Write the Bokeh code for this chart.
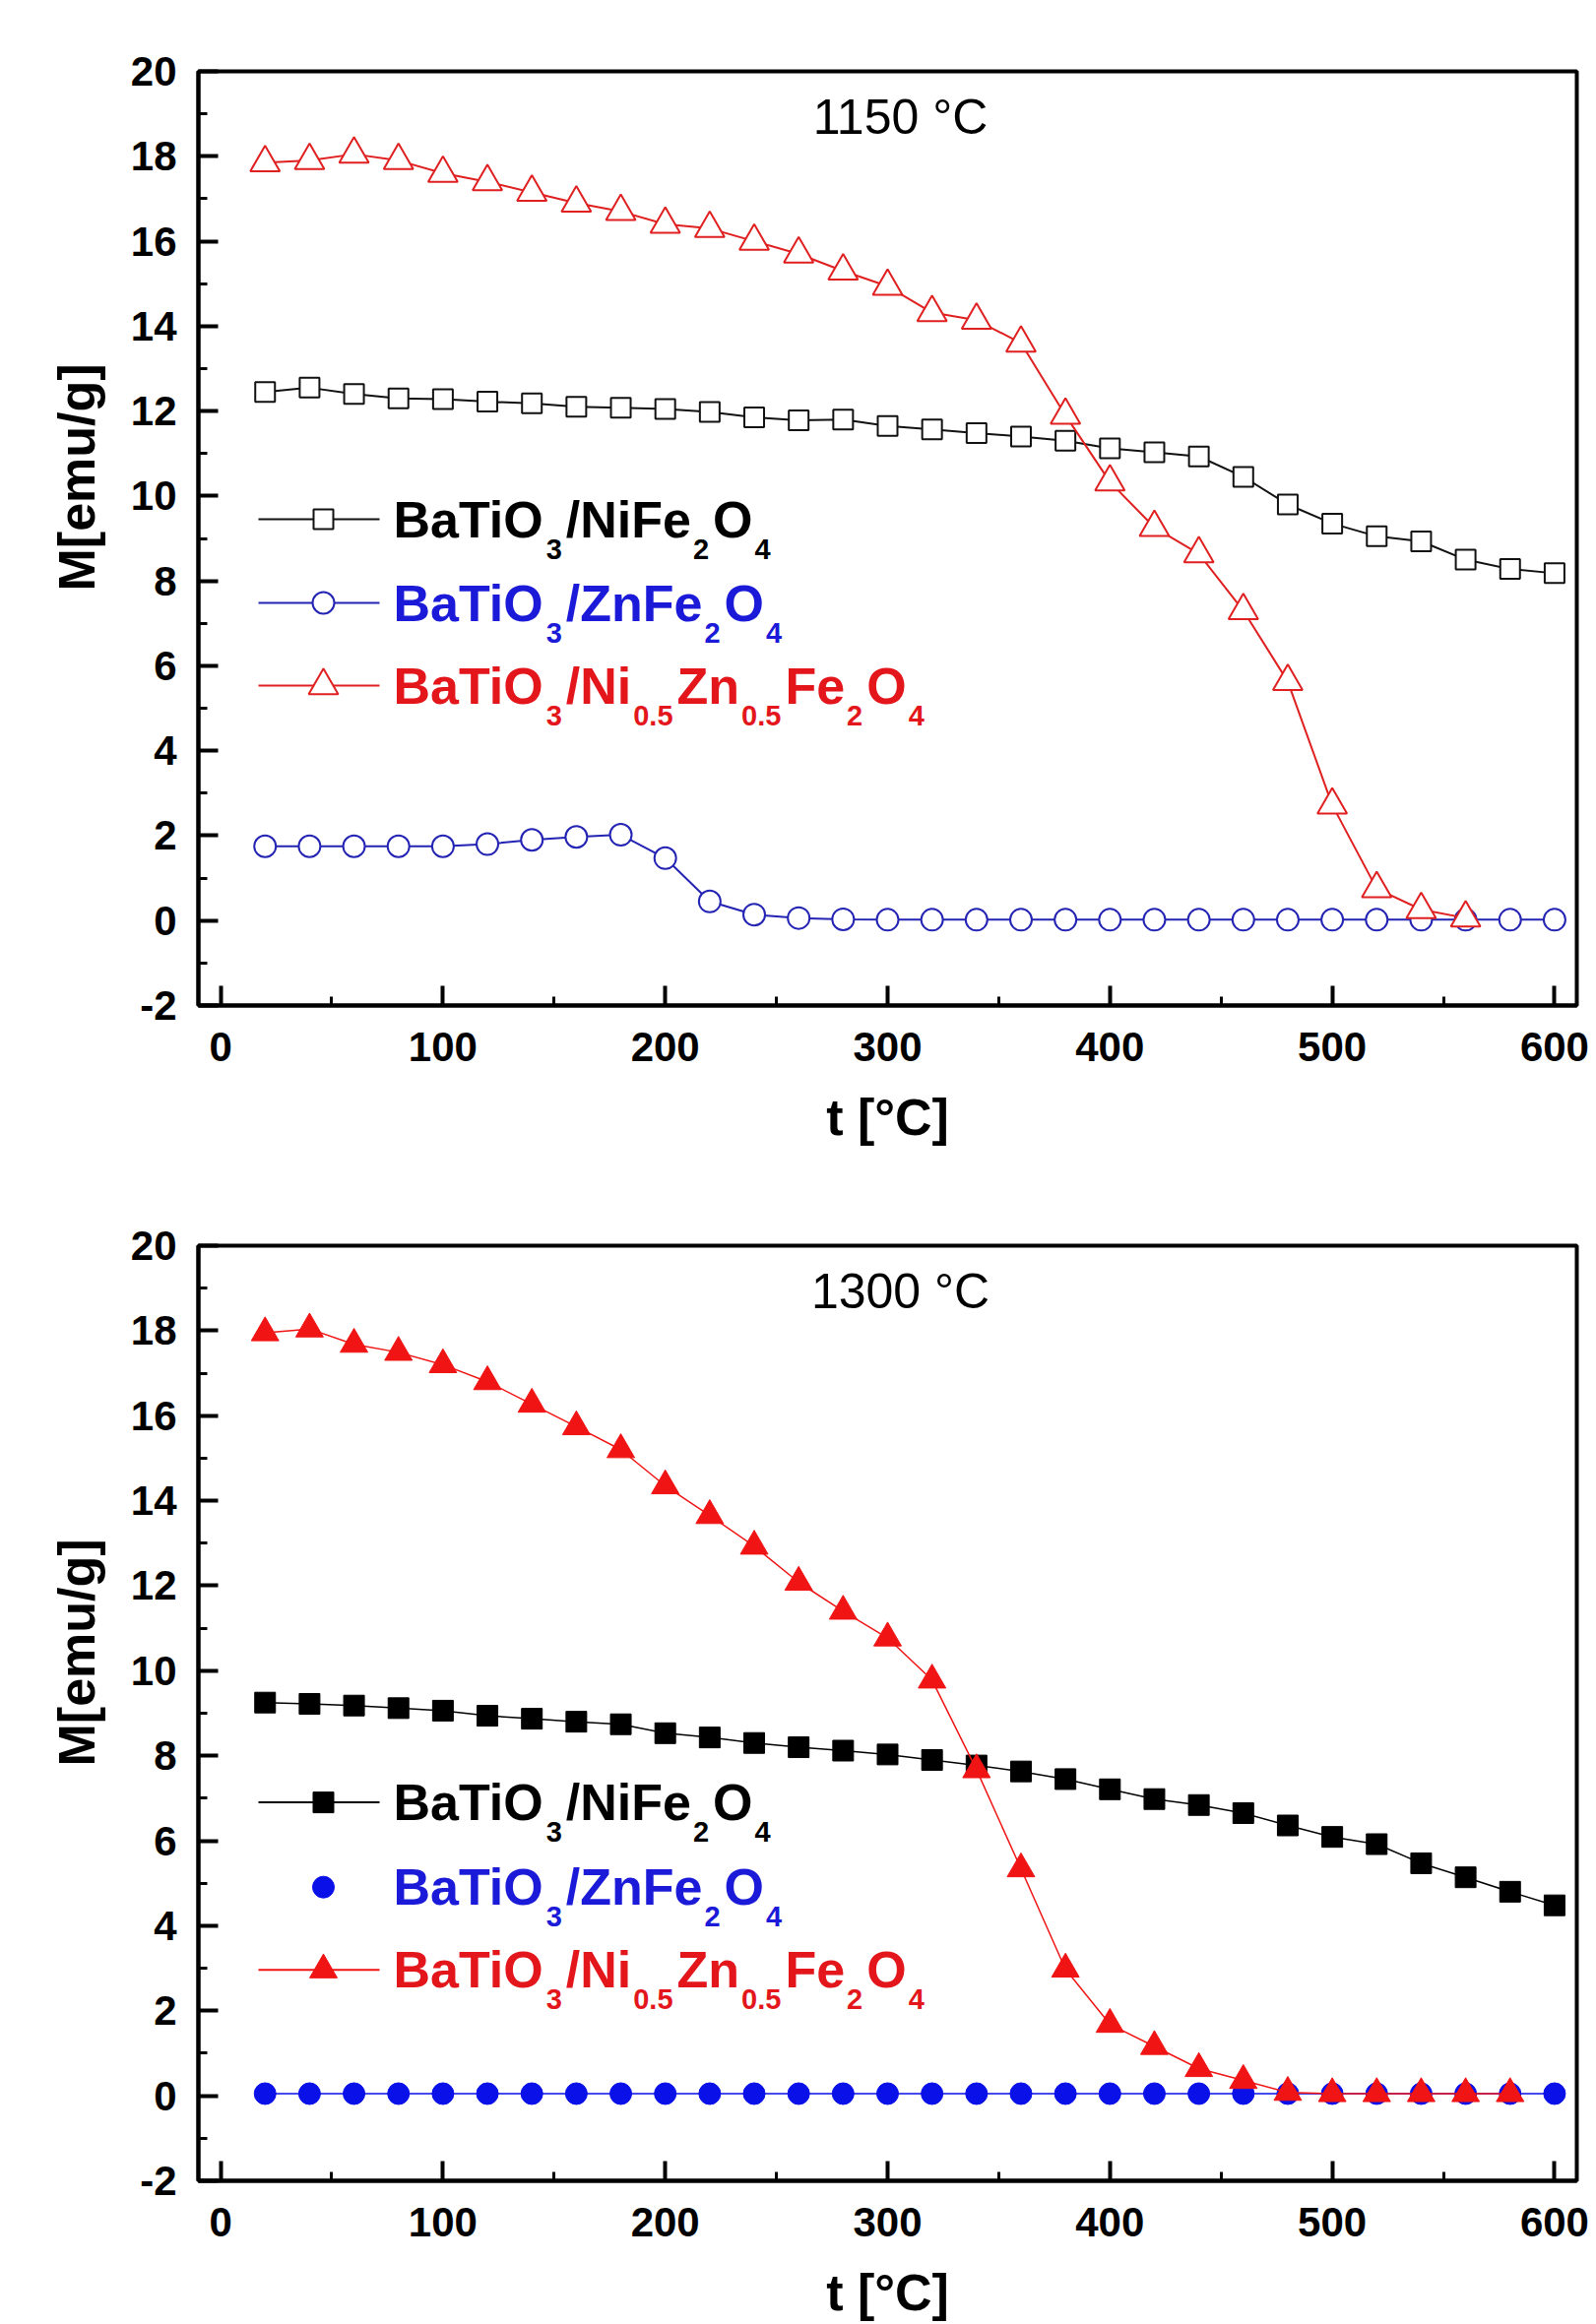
from bokeh.embed import file_html
from bokeh.layouts import column
from bokeh.models import Label, PrintfTickFormatter, SingleIntervalTicker, Title
from bokeh.plotting import figure
from bokeh.resources import INLINE

# ---------------------------------------------------------------- data
# measuring temperatures, degrees C
TEMPS = [20, 40, 60, 80, 100, 120, 140, 160, 180, 200, 220, 240, 260, 280, 300,
         320, 340, 360, 380, 400, 420, 440, 460, 480, 500, 520, 540, 560, 580, 600]

# samples sintered at 1150 C, magnetisation in emu/g
M_NIFE_1150 = [12.45, 12.55, 12.40, 12.30, 12.28, 12.22, 12.18, 12.10, 12.08, 12.05,
               11.98, 11.85, 11.78, 11.80, 11.65, 11.57, 11.48, 11.40, 11.30, 11.12,
               11.03, 10.93, 10.45, 9.80, 9.35, 9.05, 8.93, 8.50, 8.28, 8.18]
M_ZNFE_1150 = [1.75, 1.75, 1.75, 1.75, 1.75, 1.80, 1.90, 1.97, 2.02, 1.47,
               0.45, 0.14, 0.06, 0.03, 0.02, 0.02, 0.02, 0.02, 0.02, 0.02,
               0.02, 0.02, 0.02, 0.02, 0.02, 0.02, 0.02, 0.02, 0.02, 0.02]
T_NIZN_1150 = [20, 40, 60, 80, 100, 120, 140, 160, 180, 200, 220, 240, 260, 280,
               300, 320, 340, 360, 380, 400, 420, 440, 460, 480, 500, 520, 540, 560]
M_NIZN_1150 = [17.85, 17.90, 18.05, 17.90, 17.60, 17.40, 17.15, 16.90, 16.70, 16.40,
               16.30, 16.00, 15.70, 15.30, 14.94, 14.32, 14.14, 13.60, 11.90, 10.33,
               9.26, 8.64, 7.30, 5.63, 2.72, 0.75, 0.26, 0.06]

# samples sintered at 1300 C
M_NIFE_1300 = [9.25, 9.22, 9.18, 9.12, 9.06, 8.94, 8.87, 8.80, 8.74, 8.53,
               8.43, 8.30, 8.20, 8.12, 8.03, 7.90, 7.77, 7.63, 7.45, 7.21,
               6.98, 6.84, 6.65, 6.36, 6.09, 5.92, 5.47, 5.14, 4.80, 4.48]
M_ZNFE_1300 = [0.05, 0.05, 0.05, 0.05, 0.05, 0.05, 0.05, 0.05, 0.05, 0.05,
               0.05, 0.05, 0.05, 0.05, 0.05, 0.05, 0.05, 0.05, 0.05, 0.05,
               0.05, 0.05, 0.05, 0.05, 0.05, 0.05, 0.05, 0.05, 0.05, 0.05]
T_NIZN_1300 = [20, 40, 60, 80, 100, 120, 140, 160, 180, 200, 220, 240, 260, 280,
               300, 320, 340, 360, 380, 400, 420, 440, 460, 480, 500, 520, 540, 560, 580]
M_NIZN_1300 = [17.95, 18.04, 17.68, 17.49, 17.20, 16.80, 16.27, 15.74, 15.20, 14.35,
               13.65, 12.93, 12.08, 11.40, 10.77, 9.78, 7.67, 5.34, 2.98, 1.68,
               1.16, 0.64, 0.36, 0.08, 0.05, 0.05, 0.05, 0.05, 0.05]

PANEL_TITLES = ["1150 \u00b0C", "1300 \u00b0C"]
X_LABEL = "t [\u00b0C]"
Y_LABEL = "M[emu/g]"

# legend entries: (text, is_subscript) pieces
LEG_NIFE = [("BaTiO", False), ("3", True), ("/NiFe", False), ("2", True), ("O", False), ("4", True)]
LEG_ZNFE = [("BaTiO", False), ("3", True), ("/ZnFe", False), ("2", True), ("O", False), ("4", True)]
LEG_NIZN = [("BaTiO", False), ("3", True), ("/Ni", False), ("0.5", True), ("Zn", False),
            ("0.5", True), ("Fe", False), ("2", True), ("O", False), ("4", True)]

# ---------------------------------------------------------------- style / layout
FONT = "Liberation Sans"
X_START, X_END = -10, 610
Y_START, Y_END = -2, 20
FRAME_W, FRAME_H = 1400, 949

BLACK = "#000000"
BLUE_TXT, RED_TXT = "#1a1ad8", "#e3161c"

MAIN_SIZE, SUB_SIZE = 52, 29
SUB_DROP, SUB_PAD_L, SUB_PAD_R = 30, 2, 4   # subscript centre sits 30 px below the main line

# Liberation Sans Bold advance widths (em)
ADV = {"B": 0.722, "a": 0.556, "T": 0.611, "i": 0.278, "O": 0.778, "/": 0.278,
       "N": 0.722, "F": 0.611, "e": 0.556, "Z": 0.611, "n": 0.611, ".": 0.278}
for d in "0123456789":
    ADV[d] = 0.556


def text_width(s, size):
    return sum(ADV[c] for c in s) * size


def dx(px):
    """frame-relative pixel offset -> data x"""
    return X_START + px * (X_END - X_START) / FRAME_W


def dy(py):
    """pixel offset below frame top -> data y"""
    return Y_END - py * (Y_END - Y_START) / FRAME_H


def add_formula(p, x_px, mid_px, parts, color):
    cur = 0.0
    for txt, is_sub in parts:
        if is_sub:
            cur += SUB_PAD_L
            size, ym = SUB_SIZE, mid_px + SUB_DROP
        else:
            size, ym = MAIN_SIZE, mid_px
        p.add_layout(Label(x=dx(x_px + cur), y=dy(ym), text=txt, text_font=FONT,
                           text_font_size=f"{size}px", text_font_style="bold",
                           text_color=color, text_align="left",
                           text_baseline="middle"))
        cur += text_width(txt, size)
        if is_sub:
            cur += SUB_PAD_R


def make_panel(title, series, legend, border_top, border_bottom):
    p = figure(frame_width=FRAME_W, frame_height=FRAME_H,
               x_range=(X_START, X_END), y_range=(Y_START, Y_END),
               min_border_left=201, min_border_right=20,
               min_border_top=border_top, min_border_bottom=border_bottom,
               output_backend="svg", toolbar_location=None,
               background_fill_color="white", border_fill_color="white")
    p.xgrid.visible = False
    p.ygrid.visible = False
    p.outline_line_color = "black"
    p.outline_line_width = 4
    p.outline_line_alpha = 1.0

    p.xaxis.ticker = SingleIntervalTicker(interval=100, num_minor_ticks=2)
    p.yaxis.ticker = SingleIntervalTicker(interval=2, num_minor_ticks=2)
    for ax in (p.xaxis, p.yaxis):
        ax.formatter = PrintfTickFormatter(format="%d")
        ax.axis_line_width = 4
        ax.axis_line_color = "black"
        ax.major_tick_in = 20
        ax.major_tick_out = 0
        ax.minor_tick_in = 9
        ax.minor_tick_out = 0
        ax.major_tick_line_width = 4
        ax.minor_tick_line_width = 3
        ax.major_label_text_font = FONT
        ax.major_label_text_font_size = "42px"
        ax.major_label_text_font_style = "bold"
        ax.major_label_text_color = "black"
    p.xaxis.major_label_standoff = 27
    p.yaxis.major_label_standoff = 22
    p.xaxis.axis_label = X_LABEL
    p.xaxis.axis_label_text_font = FONT
    p.xaxis.axis_label_text_font_size = "52px"
    p.xaxis.axis_label_text_font_style = "bold"
    p.xaxis.axis_label_text_color = "black"
    p.xaxis.axis_label_standoff = 25

    # y-axis title, starting 421 px above the bottom of the frame
    p.add_layout(Title(text=Y_LABEL, align="left", offset=421, standoff=46,
                       text_font=FONT, text_font_size="52px", text_font_style="bold",
                       text_color="black"), "left")

    # panel heading (sintering temperature)
    p.add_layout(Label(x=dx(713), y=dy(46), text=title, text_font=FONT,
                       text_font_size="50px", text_font_style="normal",
                       text_color="black", text_align="center", text_baseline="middle"))

    for s in series:
        p.line(s["t"], s["m"], line_color=s["color"], line_width=s["lw"])
        p.scatter(s["t"], s["m"], marker=s["marker"], size=s["size"],
                  line_color=s["color"], line_width=s["mlw"], fill_color=s["fill"])

    # legend drawn by hand so the formulas can carry subscripts
    for (cy, s, parts, txt_color, with_line) in legend:
        if with_line:
            p.line([dx(61), dx(184)], [dy(cy), dy(cy)], line_color=s["color"], line_width=2)
        p.scatter([dx(127)], [dy(cy)], marker=s["marker"], size=s["size"],
                  line_color=s["color"], line_width=s["mlw"], fill_color=s["fill"])
        add_formula(p, 198, cy, parts, txt_color)
    return p


# ---------------------------------------------------------------- 1150 C panel
s1 = [
    dict(t=TEMPS, m=M_NIFE_1150, color="#111111", marker="square", size=20, lw=2, mlw=2, fill="white"),
    dict(t=TEMPS, m=M_ZNFE_1150, color="#2424b4", marker="circle", size=22, lw=2, mlw=2, fill="white"),
    dict(t=T_NIZN_1150, m=M_NIZN_1150, color="#e02020", marker="triangle", size=30, lw=2, mlw=2, fill="white"),
]
leg1 = [
    (455, s1[0], LEG_NIFE, BLACK, True),
    (540, s1[1], LEG_ZNFE, BLUE_TXT, True),
    (624, s1[2], LEG_NIZN, RED_TXT, True),
]
p1 = make_panel(PANEL_TITLES[0], s1, leg1, border_top=72, border_bottom=175)

# ---------------------------------------------------------------- 1300 C panel
s2 = [
    dict(t=TEMPS, m=M_NIFE_1300, color="#000000", marker="square", size=21, lw=1.5, mlw=1, fill="#000000"),
    dict(t=TEMPS, m=M_ZNFE_1300, color="#0a10e8", marker="circle", size=22, lw=1.5, mlw=1, fill="#0a10e8"),
    dict(t=T_NIZN_1300, m=M_NIZN_1300, color="#f01414", marker="triangle", size=28, lw=1.5, mlw=1, fill="#f01414"),
]
leg2 = [
    (565, s2[0], LEG_NIFE, BLACK, True),
    (651, s2[1], LEG_ZNFE, BLUE_TXT, False),
    (735, s2[2], LEG_NIZN, RED_TXT, True),
]
p2 = make_panel(PANEL_TITLES[1], s2, leg2, border_top=69, border_bottom=146)
p2.frame_height = 950

layout = column(p1, p2, spacing=0)

with open("out.html", "w") as f:
    f.write(file_html(layout, INLINE))
